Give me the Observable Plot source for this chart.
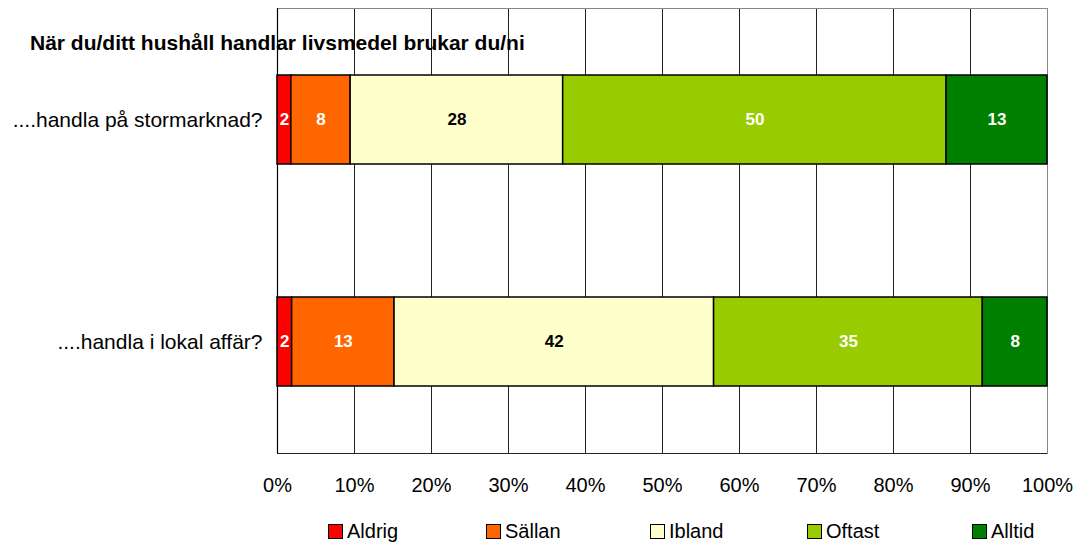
<!DOCTYPE html>
<html>
<head>
<meta charset="utf-8">
<script src="https://cdn.jsdelivr.net/npm/d3@7"></script>
<script src="https://cdn.jsdelivr.net/npm/@observablehq/plot@0.6"></script>
<style>
  body { margin: 0; background: #fff; font-family: "Liberation Sans", Arial, sans-serif; }
  #wrap { position: relative; width: 1079px; height: 542px; }
  #title { position: absolute; left: 30px; top: 32px; font-size: 21px; font-weight: bold; line-height: 1; color: #000; white-space: nowrap; pointer-events: none; }
  .leg { position: absolute; top: 520px; display: flex; align-items: center; font-size: 20px; line-height: 22px; color: #000; }
  .sw { width: 13px; height: 13px; border: 1px solid #000; margin-right: 4px; box-sizing: content-box; }
</style>
</head>
<body>
<div id="wrap">
  <div id="chart"></div>
  <div id="title">När du/ditt hushåll handlar livsmedel brukar du/ni</div>
</div>
<script>
const questions = ["....handla på stormarknad?", "....handla i lokal affär?"];
const categories = ["Aldrig", "Sällan", "Ibland", "Oftast", "Alltid"];
const colors = ["#FF0000", "#FF6600", "#FFFFCC", "#99CC00", "#008000"];
const stormarknad = [1.8, 7.7, 27.6, 49.8, 13.1];
const lokalAffar = [1.9, 13.3, 41.5, 34.9, 8.4];
const xTicks = [0, 10, 20, 30, 40, 50, 60, 70, 80, 90, 100];

const data = [];
[stormarknad, lokalAffar].forEach((vals, qi) => {
  vals.forEach((v, ci) => data.push({question: questions[qi], category: categories[ci], value: v}));
});

const chart = Plot.plot({
  width: 1079,
  height: 505,
  marginLeft: 277,
  marginRight: 32,
  marginTop: 8,
  marginBottom: 52,
  style: {fontFamily: "'Liberation Sans', Arial, sans-serif", fontSize: "20px", color: "#000", background: "#fff"},
  x: {domain: [0, 100], label: null},
  y: {domain: questions, paddingInner: 0.6, paddingOuter: 0.3, label: null},
  color: {domain: categories, range: colors},
  marks: [
    Plot.ruleX(xTicks.slice(1, -1), {stroke: "#222", strokeWidth: 1}),
    Plot.frame({stroke: "#888", strokeWidth: 1}),
    Plot.ruleX([0], {stroke: "#000", strokeWidth: 1.2}),
    Plot.axisX({ticks: xTicks, tickFormat: d => d + "%", tickSize: 0, tickPadding: 24, fontSize: 20, label: null}),
    Plot.axisY({tickSize: 0, tickPadding: 15, fontSize: 21, label: null}),
    Plot.barX(data, Plot.stackX({x: "value", y: "question", fill: "category", stroke: "#000", strokeWidth: 1.5})),
    Plot.text(data, Plot.stackX({
      x: "value", y: "question",
      text: d => String(Math.round(d.value)),
      fill: d => d.category === "Ibland" ? "#000" : "#fff",
      fontWeight: "bold", fontSize: 17
    }))
  ]
});
document.getElementById("chart").appendChild(chart);

// bottom black axis line
const svg = d3.select(chart);
const xs = chart.scale("x");
svg.append("line")
  .attr("x1", xs.apply(0)).attr("x2", xs.apply(100))
  .attr("y1", 505 - 52 + 0.5).attr("y2", 505 - 52 + 0.5)
  .attr("stroke", "#222").attr("stroke-width", 1.2);

// legend
const legendX = [328, 486, 650, 807, 972];
const wrap = document.getElementById("wrap");
categories.forEach((c, i) => {
  const item = document.createElement("div");
  item.className = "leg";
  item.style.left = legendX[i] + "px";
  const sw = document.createElement("div");
  sw.className = "sw";
  sw.style.background = colors[i];
  item.appendChild(sw);
  const t = document.createElement("span");
  t.textContent = c;
  item.appendChild(t);
  wrap.appendChild(item);
});
</script>
</body>
</html>
